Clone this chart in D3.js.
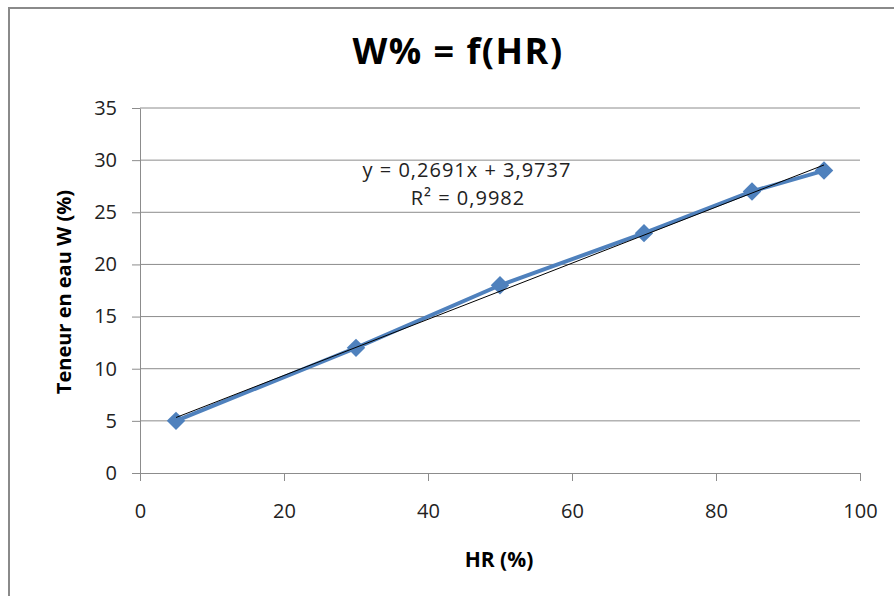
<!DOCTYPE html>
<html>
<head>
<meta charset="utf-8">
<script src="https://cdn.jsdelivr.net/npm/d3@7"></script>
<style>
  body { margin: 0; background: #fff; }
  svg { display: block; font-family: "Open Sans", "Liberation Sans", sans-serif; }
</style>
</head>
<body>
<div id="chart"></div>
<script>
// data
const hr = [5, 30, 50, 70, 85, 95];
const water = [5, 12, 18, 23, 27, 29];
const xTicks = [0, 20, 40, 60, 80, 100];
const yTicks = [0, 5, 10, 15, 20, 25, 30, 35];
const slope = 0.2691;
const intercept = 3.9737;

const width = 894, height = 596;
const margin = { top: 108, right: 34, bottom: 123, left: 140 };
const font = "'Open Sans', 'Liberation Sans', sans-serif";

const svg = d3.select("#chart").append("svg")
    .attr("width", width)
    .attr("height", height);

// outer chart frame (runs off the right and bottom edges)
svg.append("rect")
    .attr("x", 9).attr("y", 8)
    .attr("width", 900).attr("height", 600)
    .attr("fill", "none")
    .attr("stroke", "#8a8a8a")
    .attr("stroke-width", 2);

const x = d3.scaleLinear().domain([0, 100]).range([margin.left, width - margin.right]);
const y = d3.scaleLinear().domain([0, 35]).range([height - margin.bottom, margin.top]);

// gridlines
svg.append("g")
    .selectAll("line")
    .data(yTicks.filter(d => d > 0))
    .join("line")
    .attr("x1", x(0)).attr("x2", x(100))
    .attr("y1", d => y(d)).attr("y2", d => y(d))
    .attr("stroke", "#8c8c8c")
    .attr("stroke-width", 1);

// axes
const xAxis = svg.append("g")
    .attr("transform", `translate(0,${y(0)})`)
    .call(d3.axisBottom(x).tickValues(xTicks).tickSize(8).tickPadding(23).tickSizeOuter(0));

const yAxis = svg.append("g")
    .attr("transform", `translate(${x(0)},0)`)
    .call(d3.axisLeft(y).tickValues(yTicks).tickSize(8).tickPadding(15).tickSizeOuter(0));

[xAxis, yAxis].forEach(g => {
    g.select(".domain").attr("stroke", "#8c8c8c");
    g.selectAll(".tick line").attr("stroke", "#8c8c8c");
    g.selectAll(".tick text")
        .attr("fill", "#222")
        .style("font-size", "20px")
        .style("font-family", font);
});

// series line
const line = d3.line().x((d, i) => x(hr[i])).y(d => y(d));
svg.append("path")
    .datum(water)
    .attr("d", line)
    .attr("fill", "none")
    .attr("stroke", "#4f81bd")
    .attr("stroke-width", 4)
    .attr("stroke-linejoin", "round");

// diamond markers
svg.append("g")
    .selectAll("path")
    .data(water)
    .join("path")
    .attr("d", d3.symbol().type(d3.symbolSquare).size(170))
    .attr("transform", (d, i) => `translate(${x(hr[i])},${y(d)}) rotate(45)`)
    .attr("fill", "#4f81bd");

// linear trendline
const xmin = d3.min(hr), xmax = d3.max(hr);
svg.append("line")
    .attr("x1", x(xmin)).attr("y1", y(slope * xmin + intercept))
    .attr("x2", x(xmax)).attr("y2", y(slope * xmax + intercept))
    .attr("stroke", "#000")
    .attr("stroke-width", 1);

// trendline equation
svg.append("text")
    .attr("x", 467).attr("y", 177)
    .attr("text-anchor", "middle")
    .style("font-size", "20px")
    .style("letter-spacing", "1px")
    .attr("fill", "#222")
    .text("y = 0,2691x + 3,9737");
svg.append("text")
    .attr("x", 468).attr("y", 205)
    .attr("text-anchor", "middle")
    .style("font-size", "20px")
    .style("letter-spacing", "1px")
    .attr("fill", "#222")
    .text("R² = 0,9982");

// titles
svg.append("text")
    .attr("x", 458).attr("y", 64)
    .attr("text-anchor", "middle")
    .style("font-size", "36px")
    .style("font-weight", "bold")
    .style("letter-spacing", "1.5px")
    .text("W% = f(HR)");

svg.append("text")
    .attr("x", 499).attr("y", 567)
    .attr("text-anchor", "middle")
    .style("font-size", "21px")
    .style("font-weight", "bold")
    .text("HR (%)");

svg.append("text")
    .attr("transform", "translate(71,292) rotate(-90)")
    .attr("text-anchor", "middle")
    .style("font-size", "20px")
    .style("font-weight", "bold")
    .text("Teneur en eau W (%)");
</script>
</body>
</html>
